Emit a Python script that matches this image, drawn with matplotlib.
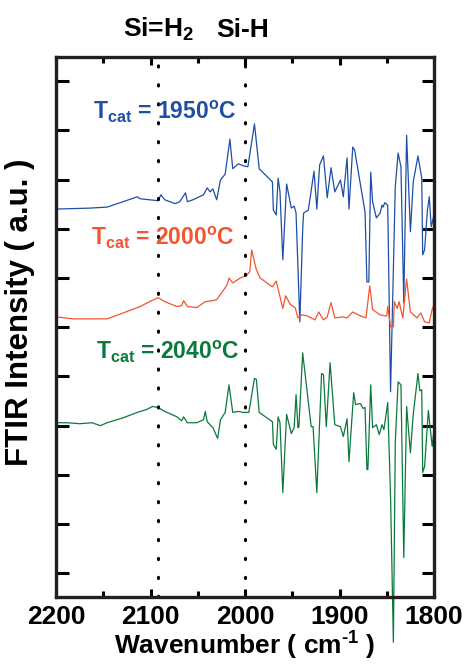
import matplotlib
matplotlib.use('Agg')
import matplotlib.pyplot as plt
import numpy as np

plt.rcParams['font.family'] = ['Liberation Sans', 'DejaVu Sans']
plt.rcParams['font.weight'] = 'bold'
plt.rcParams['axes.labelweight'] = 'bold'
plt.rcParams['mathtext.fontset'] = 'custom'
plt.rcParams['mathtext.rm'] = 'Liberation Sans:bold'
plt.rcParams['mathtext.it'] = 'Liberation Sans:bold'
plt.rcParams['mathtext.bf'] = 'Liberation Sans:bold'

# Spectra (wavenumber, intensity in tick units)
wn_1950 = [2200, 2164, 2146, 2129, 2114, 2111, 2092, 2089, 2085, 2074, 2069, 2063, 2061,
           2055, 2044, 2040, 2037, 2034, 2030, 2026, 2021, 2016, 2013, 2007, 2002, 1997,
           1990, 1985, 1971, 1970, 1967, 1965, 1963, 1960, 1956, 1951, 1948, 1946, 1942,
           1939, 1938, 1933, 1927, 1924, 1921, 1917, 1913, 1909, 1905, 1899, 1896, 1892,
           1890, 1886, 1884, 1873, 1871, 1869, 1867, 1865, 1861, 1857, 1855, 1854, 1852,
           1849, 1846, 1841, 1838, 1835, 1832, 1829, 1825, 1822, 1817, 1813, 1812, 1810,
           1807, 1805, 1803, 1800]
int_1950 = [7.40, 7.42, 7.44, 7.55, 7.65, 7.61, 7.57, 7.69, 7.59, 7.51, 7.55, 7.73, 7.55,
            7.59, 7.69, 7.83, 7.75, 7.81, 7.59, 7.99, 8.11, 8.82, 8.22, 8.32, 8.28, 8.26,
            9.13, 8.22, 7.95, 7.38, 7.28, 8.03, 7.75, 6.37, 7.91, 7.42, 7.46, 7.32, 5.11,
            6.98, 7.32, 7.38, 8.17, 7.40, 8.30, 8.48, 7.63, 8.24, 7.75, 7.99, 7.65, 8.44,
            7.40, 8.66, 8.60, 7.34, 5.92, 5.92, 8.15, 7.55, 7.22, 7.32, 7.48, 7.44, 7.53,
            7.48, 3.69, 7.85, 8.54, 8.26, 5.50, 8.90, 6.94, 7.95, 8.48, 8.03, 6.47, 6.57,
            7.38, 7.65, 7.04, 7.28]

wn_2000 = [2200, 2182, 2146, 2129, 2111, 2101, 2092, 2085, 2072, 2067, 2065, 2061, 2051,
           2042, 2034, 2030, 2024, 2019, 2017, 2013, 2005, 1998, 1995, 1993, 1988, 1984,
           1971, 1967, 1964, 1960, 1957, 1952, 1947, 1944, 1940, 1934, 1926, 1922, 1917,
           1913, 1909, 1905, 1896, 1892, 1886, 1878, 1872, 1868, 1865, 1857, 1850, 1849,
           1846, 1843, 1842, 1839, 1837, 1833, 1829, 1825, 1818, 1814, 1810, 1805, 1802,
           1800]
int_2000 = [5.21, 5.17, 5.17, 5.29, 5.42, 5.52, 5.60, 5.52, 5.42, 5.44, 5.54, 5.42, 5.40,
            5.52, 5.54, 5.56, 5.72, 5.86, 6.00, 5.90, 6.00, 6.06, 6.13, 6.57, 6.17, 6.00,
            5.82, 5.94, 5.70, 5.38, 5.64, 5.46, 5.40, 5.19, 5.25, 5.23, 5.15, 5.31, 5.15,
            5.21, 5.50, 5.19, 5.21, 5.19, 5.31, 5.23, 5.19, 5.84, 5.36, 5.25, 5.23, 5.42,
            5.01, 5.01, 5.52, 5.38, 5.52, 5.19, 5.98, 5.31, 5.19, 5.29, 5.11, 5.09, 5.36,
            5.46]

wn_2040 = [2200, 2188, 2175, 2162, 2153, 2146, 2129, 2114, 2104, 2098, 2092, 2085, 2072,
           2067, 2065, 2061, 2051, 2044, 2042, 2040, 2034, 2029, 2026, 2021, 2017, 2013,
           2007, 2002, 1996, 1990, 1988, 1985, 1971, 1970, 1967, 1965, 1963, 1960, 1956,
           1951, 1948, 1946, 1944, 1943, 1939, 1930, 1928, 1924, 1919, 1917, 1914, 1910,
           1905, 1899, 1896, 1892, 1890, 1885, 1883, 1878, 1875, 1873, 1871, 1870, 1867,
           1865, 1861, 1858, 1855, 1853, 1849, 1846, 1843, 1841, 1838, 1835, 1832, 1829,
           1825, 1822, 1817, 1815, 1813, 1812, 1810, 1806, 1802, 1800]
int_2040 = [3.06, 3.06, 3.04, 3.06, 3.00, 3.06, 3.16, 3.27, 3.33, 3.39, 3.37, 3.29, 3.18,
            3.10, 3.18, 3.06, 3.06, 3.12, 3.29, 3.08, 2.96, 2.74, 3.12, 3.27, 3.83, 3.27,
            3.29, 3.27, 3.27, 3.96, 3.94, 3.27, 3.08, 2.62, 2.52, 3.18, 3.06, 1.64, 3.23,
            2.84, 2.96, 3.63, 2.96, 2.98, 4.48, 2.98, 2.98, 1.64, 4.06, 4.04, 2.98, 4.28,
            3.02, 2.98, 2.78, 3.14, 2.27, 3.67, 3.43, 3.45, 3.35, 3.37, 2.11, 2.11, 3.83,
            2.96, 3.02, 2.82, 3.02, 2.92, 3.47, 1.56, -1.40, 2.66, 3.89, 3.83, 0.32, 3.39,
            2.45, 3.23, 4.06, 3.71, 3.73, 2.05, 2.17, 3.31, 2.58, 2.92]

peak_lines = [2092, 2000]
peak_names = ['Si=H$_{\\rm 2}$', 'Si-H']

blue = '#1f4fa5'
red = '#f2552f'
green = '#0a7a3c'

fig = plt.figure(figsize=(4.68, 6.64), dpi=100)
ax = fig.add_axes([0.1197, 0.1009, 0.8077, 0.8133])

ax.plot(wn_1950, int_1950, color=blue, lw=0.9)
ax.plot(wn_2000, int_2000, color=red, lw=0.9)
ax.plot(wn_2040, int_2040, color=green, lw=0.9, clip_on=False)

for w in peak_lines:
    ax.axvline(w, color='black', lw=2.2, linestyle=(0, (0.4, 5.8)), dash_capstyle='round')

ax.set_xlim(2200, 1800)
ax.set_ylim(-0.48, 10.49)
ax.set_xticks([2200, 2100, 2000, 1900, 1800])
ax.set_xticks(np.arange(1800, 2201, 50), minor=True)
ax.set_yticks(np.arange(0, 11, 1))
ax.set_yticklabels([])

ax.tick_params(axis='x', which='major', direction='in', top=True, length=6, width=2.2,
               labelsize=19, pad=6)
ax.tick_params(axis='x', which='minor', direction='in', top=True, length=4, width=2.2)
ax.tick_params(axis='y', which='major', direction='in', right=True, length=9, width=2.2)
for sp in ax.spines.values():
    sp.set_linewidth(2.4)
    sp.set_color('#231f20')

ax.set_xlabel('Wavenumber ( cm$^{\\text{-1}}$ )', fontsize=19, labelpad=0)
ax.set_ylabel('FTIR Intensity ( a.u. )', fontsize=22.5)
ax.yaxis.set_label_coords(-0.055, 0.528)

ax.text(0.097, 0.885, r'T$_{\rm cat}$ = 1950$^{\rm o}$C', transform=ax.transAxes,
        color=blue, fontsize=16.5)
ax.text(0.093, 0.652, r'T$_{\rm cat}$ = 2000$^{\rm o}$C', transform=ax.transAxes,
        color=red, fontsize=16.5)
ax.text(0.106, 0.440, r'T$_{\rm cat}$ = 2040$^{\rm o}$C', transform=ax.transAxes,
        color=green, fontsize=16.5)

ax.text(2091, 10.90, peak_names[0], ha='center', va='baseline', fontsize=19)
ax.text(2003, 10.90, peak_names[1], ha='center', va='baseline', fontsize=19)

fig.savefig('out.png', dpi=100)
